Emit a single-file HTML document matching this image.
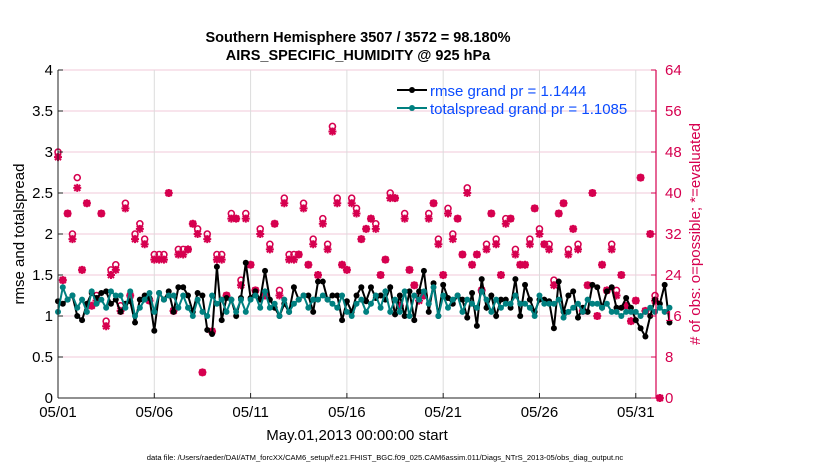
<!DOCTYPE html>
<html><head><meta charset="utf-8"><style>
body{margin:0;background:#fff;width:830px;height:470px;overflow:hidden;font-family:"Liberation Sans",Arial,sans-serif}
svg text{font-family:"Liberation Sans",Arial,sans-serif}
</style></head><body>
<svg id="chart" width="830" height="470" viewBox="0 0 830 470">
<text x="358" y="42" text-anchor="middle" font-size="14.5" font-weight="bold">Southern Hemisphere 3507 / 3572 = 98.180%</text>
<text x="358" y="60" text-anchor="middle" font-size="14.5" font-weight="bold">AIRS_SPECIFIC_HUMIDITY @ 925 hPa</text>
<g id="grid"></g>
<g id="marks"></g>
<g id="axes"></g>
<text transform="translate(24,234) rotate(-90)" text-anchor="middle" font-size="15">rmse and totalspread</text>
<text transform="translate(700,234) rotate(-90)" text-anchor="middle" font-size="15" fill="#d6004f"># of obs: o=possible; *=evaluated</text>
<text x="357" y="440" text-anchor="middle" font-size="15">May.01,2013 00:00:00 start</text>
<text x="385" y="460" text-anchor="middle" font-size="7.6">data file: /Users/raeder/DAI/ATM_forcXX/CAM6_setup/f.e21.FHIST_BGC.f09_025.CAM6assim.011/Diags_NTrS_2013-05/obs_diag_output.nc</text>
<g>
<line x1="397" y1="90" x2="427" y2="90" stroke="#000" stroke-width="2"/><circle cx="412" cy="90" r="3" fill="#000"/>
<text x="430" y="96" font-size="15" fill="#0a4bff">rmse grand pr = 1.1444</text>
<line x1="397" y1="108" x2="427" y2="108" stroke="#008080" stroke-width="2"/><circle cx="412" cy="108" r="3" fill="#008080"/>
<text x="430" y="114" font-size="15" fill="#0a4bff">totalspread grand pr = 1.1085</text>
</g>
</svg>
<script>
const dayTicks=[0,5,10,15,20,25,30];
const dayLabels=["05/01","05/06","05/11","05/16","05/21","05/26","05/31"];
const leftTicks=[0,0.5,1,1.5,2,2.5,3,3.5,4];
const leftLabels=["0","0.5","1","1.5","2","2.5","3","3.5","4"];
const rightTicks=[0,8,16,24,32,40,48,56,64];
const rmse=[1.18,1.15,1.2,1.25,1.0,0.95,1.15,1.28,1.22,1.28,1.3,1.15,1.2,1.05,1.15,1.18,0.92,1.2,1.25,1.22,0.82,1.28,1.2,1.3,1.05,1.35,1.35,1.25,1.05,1.28,1.25,0.83,0.78,1.6,0.95,1.22,1.2,1.0,1.22,1.65,1.22,1.3,1.2,1.55,1.2,1.1,1.0,1.15,1.05,1.35,1.2,1.25,1.25,1.05,1.42,1.42,1.2,1.25,1.25,0.95,1.18,1.05,1.25,1.35,1.18,1.35,1.22,1.25,1.2,1.35,1.02,1.25,1.0,1.3,0.95,1.3,1.55,1.05,1.4,1.0,1.38,1.22,1.15,1.25,1.2,0.98,1.28,0.88,1.45,1.1,1.25,1.0,1.2,1.2,1.1,1.45,1.0,1.38,1.2,1.05,1.2,1.2,1.18,0.85,1.42,1.05,1.25,1.3,0.98,1.1,1.05,1.38,1.35,1.1,1.3,1.35,1.1,1.1,1.22,1.1,0.95,0.85,0.75,1.0,1.2,1.15,1.38,0.92];
const spread=[1.05,1.35,1.2,1.25,1.1,1.2,1.05,1.3,1.15,1.2,1.1,1.3,1.25,1.25,1.1,1.3,1.0,1.1,1.2,1.28,1.05,1.28,1.2,1.25,1.25,1.1,1.25,1.1,1.0,1.2,1.05,1.0,1.25,1.15,1.2,1.05,1.2,1.05,1.2,1.05,1.2,1.25,1.1,1.3,1.1,1.15,1.0,1.2,1.05,1.15,1.2,1.25,1.1,1.2,1.2,1.25,1.2,1.15,1.1,1.25,1.05,1.0,1.15,1.2,1.05,1.15,1.25,1.1,1.3,1.05,1.2,1.05,1.3,1.0,1.25,1.2,1.3,1.15,1.35,1.0,1.25,1.1,1.2,1.25,1.05,1.2,1.15,1.1,1.3,1.2,1.05,1.2,1.1,1.15,1.15,1.25,1.15,1.15,1.1,1.0,1.25,1.15,1.15,1.15,1.2,0.98,1.05,1.1,1.15,1.05,1.2,1.15,1.15,1.1,1.15,1.05,1.05,1.0,1.05,1.05,1.05,1.0,1.05,1.1,1.05,1.1,1.05,1.1];
const evaluated=[47,23,36,31,41,25,38,18,19,36,14,24,25,17,37,20,31,33,30,19,27,27,27,40,17,28,28,29,34,32,5,31,13,27,27,20,35,35,22,35,26,21,32,20,29,34,20,38,27,27,28,37,26,30,24,34,29,52,38,26,25,38,36,31,33,35,33,24,27,39,39,18,35,25,22,19,20,35,38,30,24,36,31,35,28,40,26,28,21,29,36,30,24,34,35,28,26,26,30,37,32,30,29,22,36,38,28,33,29,17,22,40,16,26,21,29,20,24,18,15,19,43,17,32,19,0];
const possible=[48,23,36,32,43,25,38,18,20,36,15,25,26,18,38,20,32,34,31,19,28,28,28,40,17,29,29,29,34,33,5,32,13,28,28,20,36,35,23,36,26,21,33,20,30,34,21,39,28,28,28,38,26,31,24,35,30,53,39,26,25,39,37,31,33,35,34,24,27,40,39,18,36,25,22,20,20,36,38,31,24,37,32,35,28,41,26,28,21,30,36,31,24,35,35,29,26,26,31,37,33,30,30,23,36,38,29,33,30,17,22,40,16,26,21,30,21,24,18,15,19,43,17,32,20,0];
const X0=58,X1=656,Y0=398,Y1=70,XMAX=31.05;
const sx=d=>X0+(X1-X0)*d/XMAX;
const sy=v=>Y0-(Y0-Y1)*v/4;
const sy2=v=>Y0-(Y0-Y1)*v/64;
const NS="http://www.w3.org/2000/svg";
function mk(tag,attrs,parent){const e=document.createElementNS(NS,tag);for(const k in attrs)e.setAttribute(k,attrs[k]);parent.appendChild(e);return e;}
const grid=document.getElementById('grid'),marks=document.getElementById('marks'),axes=document.getElementById('axes');
mk('rect',{x:X0,y:Y1,width:X1-X0,height:Y0-Y1,fill:'#fff'},grid);
rightTicks.forEach(t=>{const l=mk('line',{x1:X0,x2:X1,y1:sy2(t),y2:sy2(t),stroke:'#f0c8d8','stroke-width':1},grid);

});
dayTicks.forEach(d=>{const l=mk('line',{x1:sx(d),x2:sx(d),y1:Y1,y2:Y0,stroke:'#dcdcdc','stroke-width':1},grid);

});
const step=0.25;
function star(cx,cy,g){const r=4;const p=mk('path',{d:`M${cx-r},${cy}H${cx+r}M${cx},${cy-r}V${cy+r}M${cx-3},${cy-3}L${cx+3},${cy+3}M${cx-3},${cy+3}L${cx+3},${cy-3}`,stroke:'#d6004f','stroke-width':2},g);return p;}
const cg=mk('g',{},marks);
possible.forEach((v,i)=>{const c=mk('circle',{cx:sx(i*step),cy:sy2(v),r:3,fill:'none',stroke:'#d6004f','stroke-width':1.6},cg);

});
evaluated.forEach((v,i)=>{const s=star(sx(i*step),sy2(v),cg);

});
function series(arr,color,name){
 const pts=arr.map((v,i)=>sx(i*step).toFixed(1)+','+sy(v).toFixed(1)).join(' ');
 const pl=mk('polyline',{points:pts,fill:'none',stroke:color,'stroke-width':2},marks);
 
 
 arr.forEach((v,i)=>{const c=mk('circle',{cx:sx(i*step),cy:sy(v),r:3,fill:color},marks);
 
 });
}
series(rmse,'#000','rmse');
series(spread,'#008080','totalspread');
mk('line',{x1:X0,x2:X0,y1:Y1,y2:Y0,stroke:'#222','stroke-width':1},axes);
mk('line',{x1:X0,x2:X1,y1:Y0,y2:Y0,stroke:'#222','stroke-width':1},axes);
mk('line',{x1:X1,x2:X1,y1:Y1,y2:Y0,stroke:'#d6004f','stroke-width':1.2},axes);
leftTicks.forEach((t,i)=>{mk('line',{x1:X0,x2:X0+5,y1:sy(t),y2:sy(t),stroke:'#222'},axes);
const tx=mk('text',{x:X0-5,y:sy(t)+5,'text-anchor':'end','font-size':15},axes);tx.textContent=leftLabels[i];

});
rightTicks.forEach(t=>{mk('line',{x1:X1-5,x2:X1,y1:sy2(t),y2:sy2(t),stroke:'#d6004f'},axes);
const tx=mk('text',{x:X1+9,y:sy2(t)+5,'font-size':15,fill:'#d6004f'},axes);tx.textContent=t;

});
dayTicks.forEach((d,i)=>{mk('line',{x1:sx(d),x2:sx(d),y1:Y0,y2:Y0-5,stroke:'#222'},axes);
const tx=mk('text',{x:sx(d),y:Y0+19,'text-anchor':'middle','font-size':15},axes);tx.textContent=dayLabels[i];

});
</script>
</body></html>
